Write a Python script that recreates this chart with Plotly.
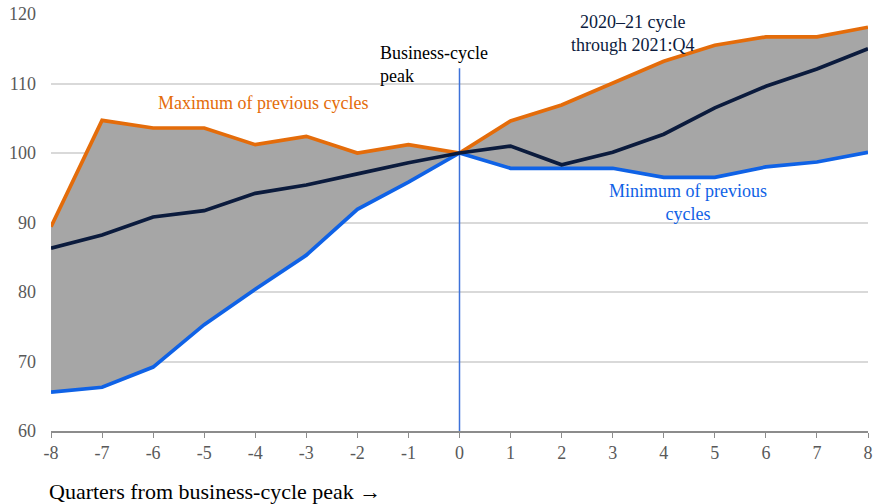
import plotly.graph_objects as go

quarters = list(range(-8, 9))
quarter_labels = [str(q) for q in quarters]
max_prev = [89.4, 104.7, 103.6, 103.6, 101.2, 102.4, 100.0, 101.2, 100.0,
            104.6, 106.9, 110.1, 113.2, 115.5, 116.7, 116.7, 118.1]
min_prev = [65.6, 66.3, 69.2, 75.3, 80.4, 85.3, 91.9, 95.8, 100.0,
            97.8, 97.8, 97.8, 96.5, 96.5, 98.0, 98.7, 100.1]
cycle_2020 = [86.3, 88.2, 90.8, 91.7, 94.2, 95.4, 97.0, 98.6, 100.0,
              101.0, 98.3, 100.1, 102.7, 106.5, 109.6, 112.1, 115.0]

ORANGE = "#E46C0A"
BLUE = "#0F62E6"
NAVY = "#0B1B3D"
FONT = "Liberation Serif, Times New Roman, serif"

fig = go.Figure()

# shaded band between min and max of previous cycles
fig.add_trace(go.Scatter(x=quarters, y=min_prev, mode="lines",
                         line=dict(width=0), hoverinfo="skip", showlegend=False))
fig.add_trace(go.Scatter(x=quarters, y=max_prev, mode="lines", fill="tonexty",
                         fillcolor="#A6A6A6", line=dict(width=0),
                         hoverinfo="skip", showlegend=False))

# peak marker line
fig.add_trace(go.Scatter(x=[0, 0], y=[60, 112.2], mode="lines",
                         line=dict(color="#3D72D9", width=1.5), showlegend=False))

fig.add_trace(go.Scatter(x=quarters, y=max_prev, mode="lines", name="Maximum",
                         line=dict(color=ORANGE, width=3.7), showlegend=False))
fig.add_trace(go.Scatter(x=quarters, y=min_prev, mode="lines", name="Minimum",
                         line=dict(color=BLUE, width=3.7), showlegend=False))
fig.add_trace(go.Scatter(x=quarters, y=cycle_2020, mode="lines", name="2020-21",
                         line=dict(color=NAVY, width=3.7), showlegend=False))

fig.update_layout(
    width=878, height=504,
    margin=dict(l=51, r=10, t=14, b=73),
    paper_bgcolor="white", plot_bgcolor="white",
    font=dict(family=FONT, size=18, color="#595959"),
)
fig.update_xaxes(range=[-8, 8], tickmode="array", tickvals=quarters,
                 ticktext=quarter_labels, automargin=False,
                 ticklabeloverflow="allow",
                 showgrid=False, zeroline=False, showline=True,
                 linecolor="#8C8C8C", linewidth=1.5, ticks="outside",
                 ticklen=5, tickcolor="#8C8C8C",
                 tickfont=dict(size=18, color="#595959"))
fig.update_yaxes(range=[60, 120], tickmode="linear", tick0=60, dtick=10,
                 showgrid=True, gridcolor="#D9D9D9", gridwidth=1.5,
                 zeroline=False, showline=False, ticks="", automargin=False,
                 ticklabelstandoff=14, ticklabeloverflow="allow",
                 tickfont=dict(size=18, color="#595959"))

fig.add_annotation(text="Maximum of previous cycles", x=-3.85, y=107.2,
                   showarrow=False, font=dict(color=ORANGE, size=18))
fig.add_annotation(text="Business-cycle<br>peak", x=-1.6, y=112.8,
                   xanchor="left", align="left", showarrow=False,
                   font=dict(color="black", size=18))
fig.add_annotation(text="2020\u201321 cycle<br>through 2021:Q4", x=3.4, y=117.2,
                   showarrow=False, align="center",
                   font=dict(color=NAVY, size=18))
fig.add_annotation(text="Minimum of previous<br>cycles", x=4.47, y=92.9,
                   showarrow=False, align="center",
                   font=dict(color=BLUE, size=18))
fig.add_annotation(text="Quarters from business-cycle peak \u2192",
                   xref="paper", yref="paper", x=-0.005, y=-0.146,
                   xanchor="left", yanchor="middle", showarrow=False,
                   font=dict(color="black", size=22))

# drop the default 8px body margin so the figure fills the window
fig.write_html("out.html", config={"displayModeBar": False},
               post_script="document.body.style.margin='0';")
